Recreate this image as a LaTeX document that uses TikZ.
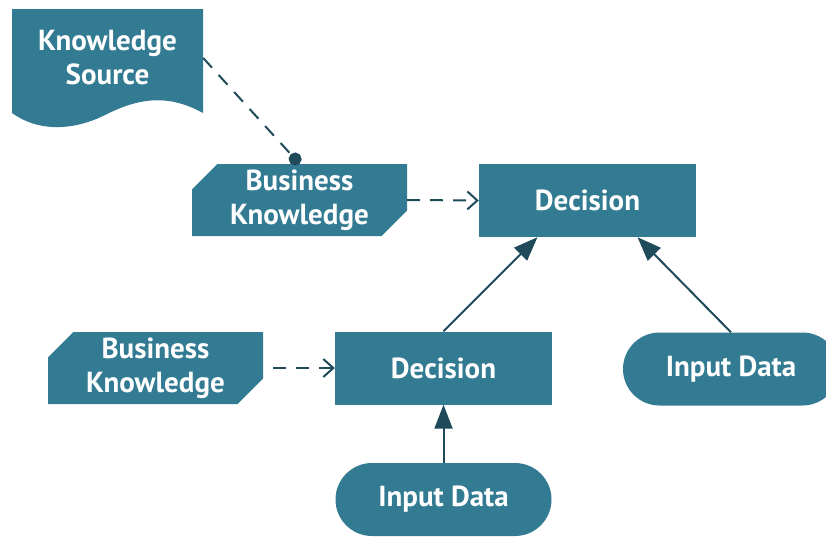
\documentclass[tikz,border=0pt]{standalone}
\usepackage{fontspec}
\setmainfont{PT Sans}
\usepackage{tikz}
\usetikzlibrary{positioning,calc,shapes.misc,arrows.meta}
\definecolor{dmnfill}{RGB}{51,123,146}
\definecolor{dmnline}{RGB}{30,74,90}

\begin{document}
\begin{tikzpicture}[x=1pt, y=-1pt,
  box/.style={fill=dmnfill, text=white, font=\bfseries\fontsize{29}{34}\selectfont,
              align=center, inner sep=0pt},
  decision/.style={box, minimum width=217pt, minimum height=73pt},
  bkm/.style={box, chamfered rectangle, chamfered rectangle corners={north west, south east},
              chamfered rectangle xsep=22pt, minimum width=215pt, minimum height=72pt},
  inputdata/.style={box, rounded corners=36.5pt, minimum width=216pt, minimum height=73pt},
  info/.style={-{Triangle[length=24pt, width=18pt]}, line width=2pt, draw=dmnline},
  need/.style={-{Straight Barb[length=10pt, width=18pt]}, line width=2pt, draw=dmnline,
               dash pattern=on 13pt off 10pt},
  source/.style={-{Circle[length=13pt]}, line width=2pt, draw=dmnline,
                 dash pattern=on 13pt off 10pt}
]
  \useasboundingbox (0,0) rectangle (826,536);
  \clip (0,0) rectangle (826,536);

  % Knowledge source (wavy bottom)
  \fill[dmnfill] (12,9) -- (203,9) -- (203,113)
    .. controls (165,92) and (135,100) .. (105,115)
    .. controls (75,130) and (40,133) .. (12,113) -- cycle;
  \node[box, fill=none, minimum width=191pt] (ks) at (107.5,58) {Knowledge\\Source};

  % Nodes
  \node[bkm] (bk1) at (299.5,200) {Business\\Knowledge};
  \node[decision] (dec1) at (587.5,200.5) {Decision};
  \node[bkm] (bk2) at (155.5,368) {Business\\Knowledge};
  \node[decision] (dec2) at (443.5,368) {Decision};
  \node[inputdata] (idr) at (731,369) {Input Data};
  \node[inputdata] (idb) at (443.5,499.5) {Input Data};

  % Requirements
  \draw[source] (ks.east) -- (bk1.north);
  \draw[need] (bk1.east) -- (dec1.west);
  \draw[need, shorten <=10pt] (bk2.east) -- (dec2.west);
  \draw[info] (dec2.north) -- ($(dec1.south west)!0.27!(dec1.south east)$);
  \draw[info] (idr.north) -- ($(dec1.south west)!0.73!(dec1.south east)$);
  \draw[info] (idb.north) -- (dec2.south);
\end{tikzpicture}
\end{document}
